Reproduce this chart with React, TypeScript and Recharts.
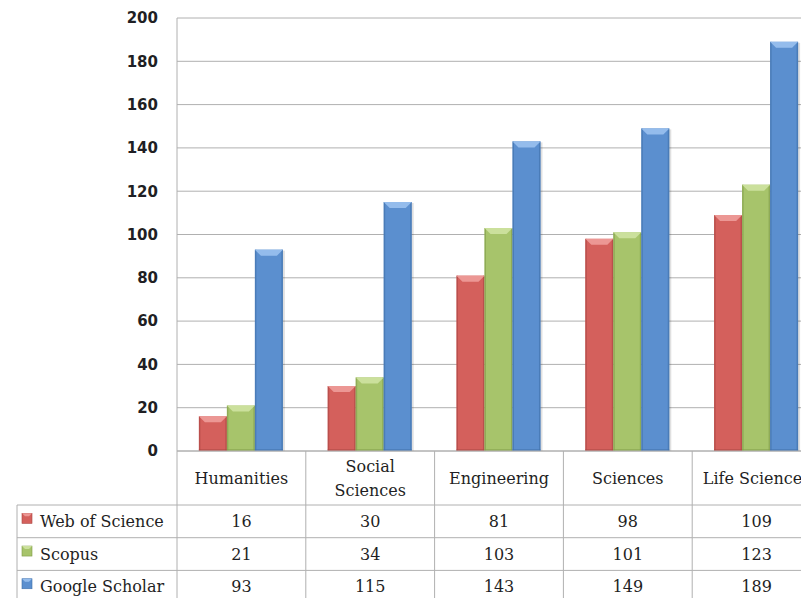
import { Bar, BarChart, CartesianGrid, XAxis, YAxis } from 'recharts'

const categories = ['Humanities', 'Social Sciences', 'Engineering', 'Sciences', 'Life Sciences']
const webOfScience = [16, 30, 81, 98, 109]
const scopus = [21, 34, 103, 101, 123]
const googleScholar = [93, 115, 143, 149, 189]
const yTicks = [0, 20, 40, 60, 80, 100, 120, 140, 160, 180, 200]

const series = [
  { key: 'wos', name: 'Web of Science', values: webOfScience, base: '#d4605c', light: '#ec9794', dark: '#a94541' },
  { key: 'scopus', name: 'Scopus', values: scopus, base: '#a7c46b', light: '#cbe09c', dark: '#7f9b47' },
  { key: 'gs', name: 'Google Scholar', values: googleScholar, base: '#5b8fcf', light: '#94bcec', dark: '#3f6fa9' },
]

const rows = categories.map((c, i) => ({
  category: c,
  wos: webOfScience[i],
  scopus: scopus[i],
  gs: googleScholar[i],
}))

const W = 830
const H = 600
const MARGIN = { top: 10, right: 17, bottom: 0, left: 109 }
const Y_AXIS_W = 60
const X_AXIS_H = 157
const BAND = (W - MARGIN.left - MARGIN.right - Y_AXIS_W) / categories.length
const HEADER_H = 54
const ROW_H = 32.7
const LEGEND_LEFT = 9
const GRID = '#b0b0b0'
const TEXT = '#1f1f24'
const SERIF = '"DejaVu Serif", serif'

function bevelShape(s: (typeof series)[number]) {
  return (props: any) => {
    const { x, y, width: w, height: h } = props
    if (!h || h <= 0) return <g />
    const b = Math.min(6, h / 2)
    return (
      <g>
        <rect x={x + 2} y={y + 1} width={w} height={h - 1} fill="rgba(0,0,0,0.12)" />
        <rect x={x} y={y} width={w} height={h} fill={s.base} />
        <rect x={x} y={y} width={1.5} height={h} fill={s.dark} opacity={0.6} />
        <rect x={x + w - 1.5} y={y} width={1.5} height={h} fill={s.dark} opacity={0.6} />
        <rect x={x} y={y + h - 2} width={w} height={2} fill={s.dark} opacity={0.5} />
        <polygon
          points={`${x},${y} ${x + w},${y} ${x + w - b},${y + b} ${x + b},${y + b}`}
          fill={s.light}
        />
      </g>
    )
  }
}

function LegendIcon({ x, y, s }: { x: number; y: number; s: (typeof series)[number] }) {
  return (
    <g>
      <rect x={x} y={y} width={10} height={10} fill={s.base} stroke={s.dark} strokeWidth={0.6} />
      <polygon points={`${x},${y} ${x + 10},${y} ${x + 7},${y + 3} ${x + 3},${y + 3}`} fill={s.light} />
    </g>
  )
}

function TableTick(props: any) {
  const { x, y, payload } = props
  const i = payload.index as number
  const label = String(payload.value)
  const left = x - BAND / 2
  const right = x + BAND / 2
  const tableBottom = y + HEADER_H + ROW_H * series.length
  const lines = label === 'Social Sciences' ? label.split(' ') : [label]
  return (
    <g>
      <line x1={left} y1={y} x2={left} y2={tableBottom + 10} stroke={GRID} />
      {i === categories.length - 1 && (
        <line x1={right} y1={y} x2={right} y2={tableBottom + 10} stroke={GRID} />
      )}
      {series.map((s, r) => (
        <line
          key={s.key}
          x1={i === 0 ? LEGEND_LEFT : left}
          y1={y + HEADER_H + ROW_H * r}
          x2={right}
          y2={y + HEADER_H + ROW_H * r}
          stroke={GRID}
        />
      ))}
      {lines.map((ln, k) => (
        <text
          key={ln}
          x={x}
          y={y + HEADER_H / 2 + (k - (lines.length - 1) / 2) * 24}
          textAnchor="middle"
          dominantBaseline="central"
          fontFamily={SERIF}
          fontSize={16}
          fill={TEXT}
        >
          {ln}
        </text>
      ))}
      {series.map((s, r) => (
        <text
          key={s.key}
          x={x}
          y={y + HEADER_H + ROW_H * (r + 0.5)}
          textAnchor="middle"
          dominantBaseline="central"
          fontFamily={SERIF}
          fontSize={16}
          fill={TEXT}
        >
          {s.values[i]}
        </text>
      ))}
      {i === 0 && (
        <g>
          <line x1={LEGEND_LEFT} y1={y + HEADER_H} x2={LEGEND_LEFT} y2={tableBottom + 10} stroke={GRID} />
          {series.map((s, r) => {
            const cy = y + HEADER_H + ROW_H * (r + 0.5)
            return (
              <g key={s.key}>
                <LegendIcon x={LEGEND_LEFT + 5} y={cy - 8} s={s} />
                <text
                  x={LEGEND_LEFT + 23}
                  y={cy}
                  dominantBaseline="central"
                  fontFamily={SERIF}
                  fontSize={16}
                  fill={TEXT}
                >
                  {s.name}
                </text>
              </g>
            )
          })}
        </g>
      )}
    </g>
  )
}

export default function App() {
  return (
    <div style={{ width: W, height: 590, overflow: 'hidden', background: '#fff' }}>
      <style>{'html, body { overflow: hidden; }'}</style>
      <BarChart width={W} height={H} data={rows} margin={MARGIN} barCategoryGap="17%" barGap={0}>
        <CartesianGrid vertical={false} stroke={GRID} />
        <XAxis
          dataKey="category"
          height={X_AXIS_H}
          interval={0}
          tickLine={false}
          tickSize={0}
          tickMargin={0}
          axisLine={{ stroke: GRID }}
          tick={<TableTick />}
        />
        <YAxis
          width={Y_AXIS_W}
          domain={[0, 200]}
          ticks={yTicks}
          tickLine={false}
          tickSize={0}
          tickMargin={19}
          axisLine={{ stroke: GRID }}
          tick={{ fontFamily: '"DejaVu Sans", Verdana, sans-serif', fontSize: 15, fontWeight: 'bold', fill: TEXT }}
        />
        {series.map((s) => (
          <Bar
            key={s.key}
            dataKey={s.key}
            name={s.name}
            fill={s.base}
            shape={bevelShape(s)}
            isAnimationActive={false}
          />
        ))}
      </BarChart>
    </div>
  )
}
